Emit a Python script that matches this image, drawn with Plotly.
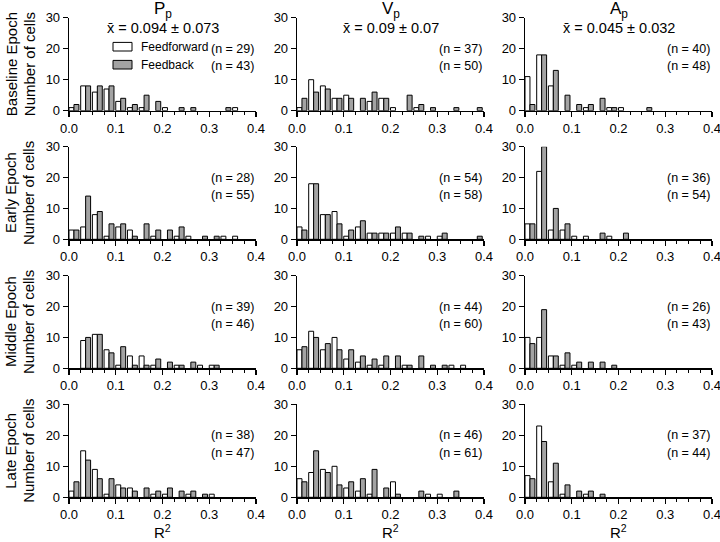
import plotly.graph_objects as go

# ---------------- data ----------------
bin_starts = [0.0, 0.025, 0.05, 0.075, 0.1, 0.125, 0.15, 0.175,
              0.2, 0.225, 0.25, 0.275, 0.3, 0.325, 0.35, 0.375]

epochs = ["Baseline Epoch", "Early Epoch", "Middle Epoch", "Late Epoch"]
params = ["P<sub>p</sub>", "V<sub>p</sub>", "A<sub>p</sub>"]
means = ["x\u0304 = 0.094 \u00b1 0.073", "x\u0304 = 0.09 \u00b1 0.07", "x\u0304 = 0.045 \u00b1 0.032"]

# counts per bin (Feedforward / Feedback)
pp_baseline_ff = [1, 8, 6, 7, 3, 1, 1, 0, 1, 0, 0, 0, 0, 0, 1, 0]
pp_baseline_fb = [2, 8, 8, 8, 4, 2, 5, 3, 0, 1, 1, 0, 0, 1, 0, 0]
vp_baseline_ff = [1, 10, 8, 4, 5, 0, 3, 4, 1, 0, 1, 0, 0, 0, 0, 0]
vp_baseline_fb = [4, 6, 7, 4, 4, 4, 6, 4, 0, 5, 2, 1, 0, 1, 0, 1]
ap_baseline_ff = [11, 18, 8, 0, 0, 1, 0, 1, 1, 0, 0, 0, 0, 0, 0, 0]
ap_baseline_fb = [2, 18, 13, 5, 2, 2, 4, 1, 0, 0, 1, 0, 0, 0, 0, 0]

pp_early_ff = [3, 4, 8, 1, 4, 3, 0, 1, 0, 1, 1, 0, 0, 1, 1, 0]
pp_early_fb = [3, 14, 9, 5, 5, 1, 5, 3, 3, 4, 0, 1, 1, 0, 0, 0]
vp_early_ff = [4, 18, 8, 9, 1, 4, 2, 2, 2, 2, 0, 1, 1, 0, 0, 0]
vp_early_fb = [3, 18, 8, 5, 3, 6, 2, 2, 4, 2, 1, 0, 2, 0, 0, 1]
ap_early_ff = [5, 22, 3, 3, 1, 1, 0, 1, 0, 0, 0, 0, 0, 0, 0, 0]
ap_early_fb = [5, 30, 10, 5, 0, 0, 2, 0, 2, 0, 0, 0, 0, 0, 0, 0]

pp_middle_ff = [0, 9, 11, 6, 1, 4, 4, 1, 0, 1, 0, 1, 1, 0, 0, 0]
pp_middle_fb = [0, 10, 11, 5, 7, 1, 1, 3, 2, 1, 2, 0, 1, 0, 0, 0]
vp_middle_ff = [6, 12, 6, 10, 3, 2, 1, 1, 0, 1, 0, 0, 0, 1, 1, 0]
vp_middle_fb = [7, 10, 8, 6, 6, 4, 3, 4, 4, 1, 4, 1, 1, 0, 0, 0]
ap_middle_ff = [10, 10, 4, 1, 1, 0, 0, 0, 0, 0, 0, 0, 0, 0, 0, 0]
ap_middle_fb = [8, 19, 4, 5, 2, 2, 2, 1, 0, 0, 0, 0, 0, 0, 0, 0]

pp_late_ff = [2, 15, 9, 1, 4, 3, 0, 1, 1, 0, 1, 0, 1, 0, 0, 0]
pp_late_fb = [5, 12, 6, 6, 3, 2, 3, 2, 3, 2, 2, 1, 0, 0, 0, 0]
vp_late_ff = [6, 8, 9, 10, 3, 2, 1, 0, 5, 0, 0, 1, 1, 0, 0, 0]
vp_late_fb = [5, 15, 8, 4, 5, 6, 9, 3, 1, 0, 2, 0, 0, 2, 0, 0]
ap_late_ff = [7, 23, 5, 1, 0, 1, 0, 0, 0, 0, 0, 0, 0, 0, 0, 0]
ap_late_fb = [6, 18, 11, 4, 2, 2, 1, 0, 0, 0, 0, 0, 0, 0, 0, 0]

n_ff = [[29, 37, 40], [28, 54, 36], [39, 44, 26], [38, 46, 37]]
n_fb = [[43, 50, 48], [55, 58, 54], [46, 60, 43], [47, 61, 44]]

x_ticks = [0.0, 0.1, 0.2, 0.3, 0.4]
y_ticks = [0, 10, 20, 30]

grid = [
    [(pp_baseline_ff, pp_baseline_fb), (vp_baseline_ff, vp_baseline_fb), (ap_baseline_ff, ap_baseline_fb)],
    [(pp_early_ff, pp_early_fb), (vp_early_ff, vp_early_fb), (ap_early_ff, ap_early_fb)],
    [(pp_middle_ff, pp_middle_fb), (vp_middle_ff, vp_middle_fb), (ap_middle_ff, ap_middle_fb)],
    [(pp_late_ff, pp_late_fb), (vp_late_ff, vp_late_fb), (ap_late_ff, ap_late_fb)],
]

# ---------------- layout / style ----------------
W, H = 720, 542
FONT = "Liberation Sans, Arial, sans-serif"
GRAY = "#a3a3a3"
BAR_W = 0.0106
col_px = [(69, 256), (297, 484), (525, 712)]
row_px = [(17.7, 110.7), (146.7, 239.3), (275.7, 368.3), (404.3, 497.3)]


def px_x(p):
    return p / W


def px_y(p):
    return 1 - p / H


fig = go.Figure()
layout = {}
annotations = []
shapes = []

for r in range(4):
    for c in range(3):
        i = r * 3 + c + 1
        sfx = "" if i == 1 else str(i)
        xa, ya = "x" + sfx, "y" + sfx
        ff, fb = grid[r][c]
        fig.add_trace(go.Bar(
            x=bin_starts, y=[v if v else None for v in ff], width=BAR_W, offset=0,
            marker=dict(color="white", line=dict(color="black", width=1)),
            xaxis=xa, yaxis=ya, showlegend=False, name="Feedforward", hoverinfo="skip"))
        fig.add_trace(go.Bar(
            x=bin_starts, y=[v if v else None for v in fb], width=BAR_W, offset=BAR_W,
            marker=dict(color=GRAY, line=dict(color="black", width=1)),
            xaxis=xa, yaxis=ya, showlegend=False, name="Feedback", hoverinfo="skip"))
        x0, x1 = col_px[c]
        yt, yb = row_px[r]
        layout["xaxis" + sfx] = dict(
            domain=[px_x(x0), px_x(x1)], anchor=ya, range=[0, 0.4], automargin=False,
            tickmode="array", tickvals=x_ticks, ticktext=[f"{t:.1f}" for t in x_ticks],
            ticks="outside", ticklen=5, tickwidth=1.2, tickcolor="black",
            ticklabeloverflow="allow",
            minor=dict(ticks="outside", ticklen=3, tickwidth=1, tickcolor="black", dtick=0.025, tick0=0),
            showline=True, linecolor="black", linewidth=1.3, showgrid=False, zeroline=False,
            tickfont=dict(family=FONT, size=13, color="black"), fixedrange=True)
        layout["yaxis" + sfx] = dict(
            domain=[px_y(yb), px_y(yt)], anchor=xa, range=[0, 30], automargin=False,
            tickmode="array", tickvals=y_ticks,
            ticks="outside", ticklen=5, tickwidth=1.2, tickcolor="black",
            ticklabeloverflow="allow",
            showline=True, linecolor="black", linewidth=1.3, showgrid=False, zeroline=False,
            tickfont=dict(family=FONT, size=13, color="black"), fixedrange=True)
        # n labels
        for yv, n in ((20, n_ff[r][c]), (14.3, n_fb[r][c])):
            annotations.append(dict(
                x=0.399, y=yv, xref=xa, yref=ya, text=f"(n = {n})", showarrow=False,
                xanchor="right", yanchor="middle",
                font=dict(family=FONT, size=12.5, color="black")))

# column titles and means
for c in range(3):
    x0, x1 = col_px[c]
    cx = (x0 + x1) / 2
    annotations.append(dict(x=px_x(cx), y=px_y(-3), xref="paper", yref="paper",
                            text=params[c], showarrow=False, xanchor="center", yanchor="top",
                            font=dict(family=FONT, size=17, color="black")))
    annotations.append(dict(x=px_x(cx), y=px_y(27.5), xref="paper", yref="paper",
                            text=means[c], showarrow=False, xanchor="center", yanchor="middle",
                            font=dict(family=FONT, size=14.5, color="black")))
    annotations.append(dict(x=px_x(cx), y=px_y(531.5), xref="paper", yref="paper",
                            text="R<sup>2</sup>", showarrow=False, xanchor="center", yanchor="middle",
                            font=dict(family=FONT, size=15, color="black")))

# row labels
for r in range(4):
    yt, yb = row_px[r]
    cy = (yt + yb) / 2
    annotations.append(dict(x=px_x(11), y=px_y(cy), xref="paper", yref="paper",
                            text=epochs[r], showarrow=False, textangle=-90,
                            xanchor="center", yanchor="middle",
                            font=dict(family=FONT, size=15, color="black")))
    annotations.append(dict(x=px_x(29), y=px_y(cy), xref="paper", yref="paper",
                            text="Number of cells", showarrow=False, textangle=-90,
                            xanchor="center", yanchor="middle",
                            font=dict(family=FONT, size=15, color="black")))

# legend (top-left panel)
legend_items = [("Feedforward", "white", 46.7), ("Feedback", GRAY, 64.7)]
for label, color, cy in legend_items:
    shapes.append(dict(type="rect", xref="paper", yref="paper",
                       x0=px_x(113), x1=px_x(132), y0=px_y(cy + 4.3), y1=px_y(cy - 4.3),
                       fillcolor=color, line=dict(color="black", width=1)))
    annotations.append(dict(x=px_x(139), y=px_y(cy), xref="paper", yref="paper",
                            text=label, showarrow=False, xanchor="left", yanchor="middle",
                            font=dict(family=FONT, size=12, color="black")))

fig.update_layout(
    template="none",
    width=W, height=H, margin=dict(l=0, r=0, t=0, b=0, autoexpand=False),
    paper_bgcolor="white", plot_bgcolor="white",
    barmode="overlay", showlegend=False, hovermode=False,
    annotations=annotations, shapes=shapes,
    font=dict(family=FONT, color="black"),
    **layout)

fig.write_html("out.html",
               config={"displayModeBar": False, "staticPlot": True},
               post_script="document.body.style.margin='0';document.body.style.overflow='hidden';")
